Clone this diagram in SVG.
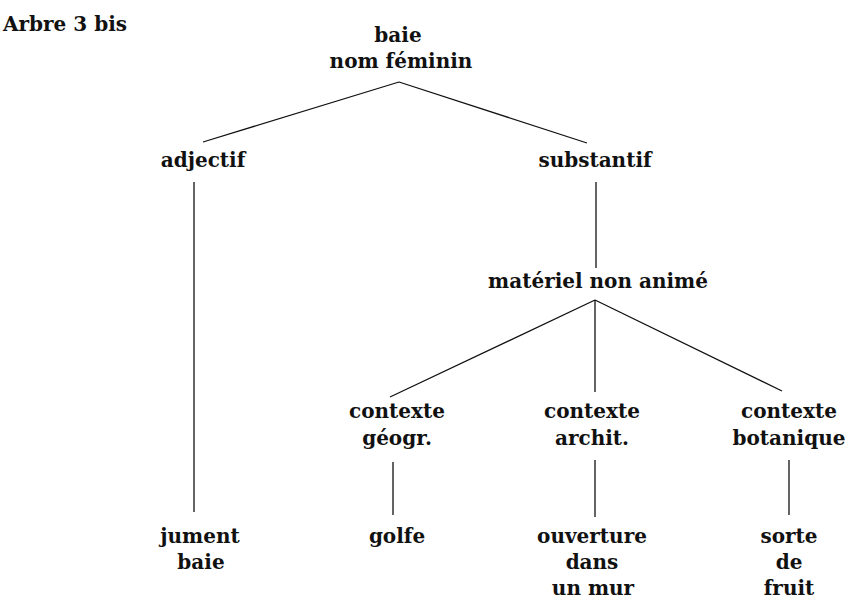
<svg xmlns="http://www.w3.org/2000/svg" width="851" height="600" viewBox="0 0 851 600">
<style>
text{font-family:"DejaVu Serif","Liberation Serif",serif;font-size:20px;font-weight:bold;fill:#111;text-anchor:middle}
.l{fill:none;stroke:#111;stroke-width:1.3}
</style>
<rect width="851" height="600" fill="#fff"/>
<text x="3" y="31" style="text-anchor:start">Arbre 3 bis</text>
<g id="connectors">
<path class="l" d="M399 82L203 142M399 82L587 143"/>
<path class="l" d="M194 182V512"/>
<path class="l" d="M596 182V268"/>
<path class="l" d="M595 300L390 397M595 300V392M595 300L782 391"/>
<path class="l" d="M393 462V515M595 460V517M789 460V515"/>
</g>
<g id="root"><text x="398" y="42">baie</text><text x="401" y="68">nom féminin</text></g>
<g id="adjectif"><text x="203" y="167">adjectif</text></g>
<g id="substantif"><text x="595" y="167">substantif</text></g>
<g id="materiel"><text x="598" y="288">matériel non animé</text></g>
<g id="geogr"><text x="397" y="418">contexte</text><text x="397" y="445">géogr.</text></g>
<g id="archit"><text x="592" y="418">contexte</text><text x="592" y="445">archit.</text></g>
<g id="botanique"><text x="789" y="418">contexte</text><text x="789" y="445">botanique</text></g>
<g id="jument"><text x="200" y="543">jument</text><text x="201" y="569">baie</text></g>
<g id="golfe"><text x="397" y="543">golfe</text></g>
<g id="ouverture"><text x="592" y="543">ouverture</text><text x="592" y="569">dans</text><text x="593" y="595">un mur</text></g>
<g id="sorte"><text x="789" y="543">sorte</text><text x="789" y="569">de</text><text x="789" y="595">fruit</text></g>
</svg>
